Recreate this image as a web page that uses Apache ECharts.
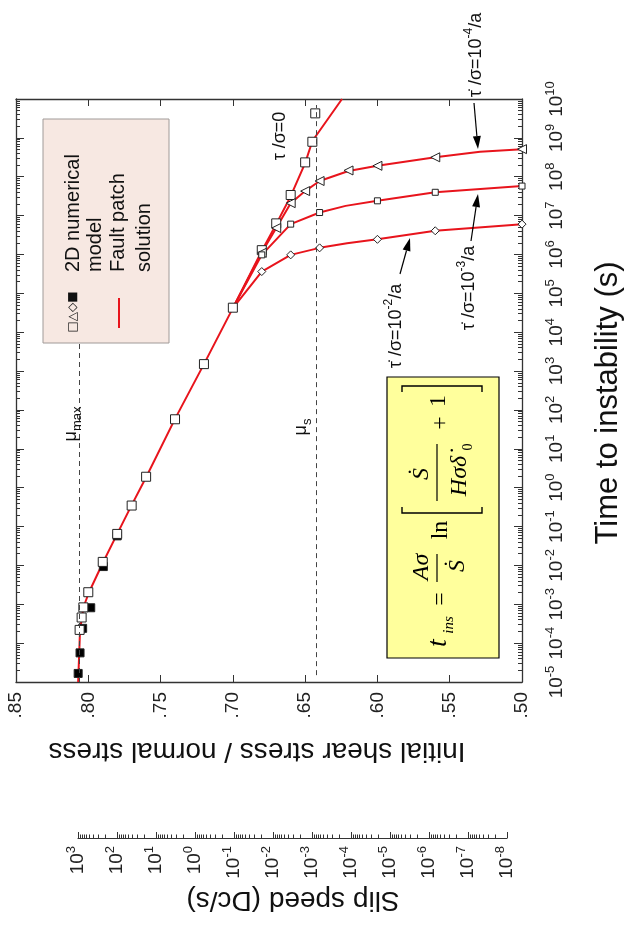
<!DOCTYPE html>
<html><head><meta charset="utf-8">
<script src="https://cdn.jsdelivr.net/npm/echarts@6/dist/echarts.min.js"></script>
<style>html,body{margin:0;padding:0;background:#fff}#c{width:626px;height:928px}</style>
</head><body><div id="c"></div>
<script>
// ---- Data: x = initial shear stress / normal stress, y = time to instability (s)
// Fault patch solution (red curves)
const curveStress0  = [0.807, 0.8057, 0.8033, 0.7995, 0.79, 0.78, 0.77, 0.76, 0.74, 0.72, 0.70, 0.68, 0.67, 0.66, 0.65, 0.645, 0.6245];
const curveTime0    = [1e-5, 2.19e-4, 8.5e-4, 2.04e-3, 1.15e-2, 6.46e-2, 0.355, 1.86, 58.9, 1.51e3, 4.17e4, 1.23e6, 6.03e6, 3.16e7, 2.24e8, 8.32e8, 1e10];
const curveStressE4 = [0.70, 0.68, 0.67, 0.66, 0.65, 0.64, 0.62, 0.60, 0.56, 0.529, 0.50];
const curveTimeE4   = [4.17e4, 1.12e6, 4.79e6, 2.09e7, 4.27e7, 7.76e7, 1.41e8, 1.91e8, 3.16e8, 4.37e8, 5.13e8];
const curveStressE3 = [0.70, 0.68, 0.66, 0.64, 0.622, 0.60, 0.56, 0.50];
const curveTimeE3   = [4.17e4, 9.77e5, 6.03e6, 1.20e7, 1.78e7, 2.40e7, 3.98e7, 5.75e7];
const curveStressE2 = [0.70, 0.68, 0.66, 0.64, 0.621, 0.60, 0.56, 0.50];
const curveTimeE2   = [4.17e4, 3.63e5, 9.77e5, 1.48e6, 1.95e6, 2.45e6, 4.07e6, 6.03e6];
// 2D numerical model (markers)
const openSqStress  = [0.806, 0.8046, 0.8034, 0.80, 0.79, 0.78, 0.77, 0.76, 0.74, 0.72, 0.70, 0.68, 0.67, 0.66, 0.65, 0.645, 0.643];
const openSqTime    = [2.19e-4, 4.57e-4, 8.32e-4, 2.04e-3, 1.23e-2, 6.46e-2, 0.347, 1.91, 57.5, 1.51e3, 4.27e4, 1.29e6, 6.31e6, 3.39e7, 2.34e8, 7.94e8, 4.27e9];
const filledStress  = [0.807, 0.8057, 0.8039, 0.7983, 0.7896, 0.78];
const filledTime    = [1.66e-5, 5.62e-5, 2.40e-4, 8.13e-4, 9.33e-3, 5.75e-2];
const triStress     = [0.68, 0.67, 0.66, 0.65, 0.64, 0.62, 0.60, 0.56, 0.50];
const triTime       = [1.10e6, 4.79e6, 2.09e7, 4.27e7, 7.76e7, 1.45e8, 1.91e8, 3.16e8, 5.13e8];
const smallSqStress = [0.68, 0.66, 0.64, 0.60, 0.56, 0.50];
const smallSqTime   = [9.77e5, 6.03e6, 1.20e7, 2.40e7, 3.98e7, 5.75e7];
const diaStress     = [0.68, 0.66, 0.64, 0.60, 0.56, 0.50];
const diaTime       = [3.63e5, 9.77e5, 1.48e6, 2.45e6, 4.07e6, 6.03e6];
// reference friction levels (stress, and time span of the dashed line)
const muMax = 0.806;
const muMaxSpan = [1e-5, 1e8];
const muS = 0.642;
const muSSpan = [1.5e-5, 7e9];
// axis ticks
const timeExponents = [-5,-4,-3,-2,-1,0,1,2,3,4,5,6,7,8,9,10];
const slipExponents = [3,2,1,0,-1,-2,-3,-4,-5,-6,-7,-8];
const stressTicks = [0.85, 0.80, 0.75, 0.70, 0.65, 0.60, 0.55, 0.50];

const zip = (xs, ys) => xs.map((x, i) => [x, ys[i]]);
const majors = ex => ex.map(e => Math.pow(10, e));
const minors = ex => { const lo = Math.min(...ex), hi = Math.max(...ex), out = [];
  for (let e = lo; e < hi; e++) for (let k = 2; k <= 9; k++) out.push(k * Math.pow(10, e)); return out; };
const powLabel = v => { const e = Math.round(Math.log10(v)); return '{b|10}{s|' + (e < 0 ? '-' : '') + Math.abs(e) + '}'; };
const SANS = "'Liberation Sans', Arial, sans-serif";
const SERIF = "'Liberation Serif', 'DejaVu Serif', serif";
const INK = '#222';
const RED = '#e8141c';
const powRich = { b: { fontSize: 19, lineHeight: 26, fontFamily: SANS, color: INK }, s: { fontSize: 13, lineHeight: 13, verticalAlign: 'top', fontFamily: SANS, color: INK } };

const frameLine = { show: true, onZero: false, lineStyle: { color: '#333', width: 1.3 } };

function arrow(x1, y1, x2, y2) {
  const dx = x2 - x1, dy = y2 - y1, L = Math.hypot(dx, dy), ux = dx / L, uy = dy / L, hl = 13, hw = 4;
  const bx = x2 - ux * hl, by = y2 - uy * hl;
  return [
    { type: 'line', z: 50, shape: { x1, y1, x2: bx, y2: by }, style: { stroke: '#000', lineWidth: 1.2 } },
    { type: 'polygon', z: 50, shape: { points: [[x2, y2], [bx - uy * hw, by + ux * hw], [bx + uy * hw, by - ux * hw]] }, style: { fill: '#000' } }
  ];
}
function rotText(x, y, rot, text, size, extra) {
  return Object.assign({ type: 'text', z: 50, x, y, rotation: rot,
    style: Object.assign({ text, fontSize: size, fontFamily: SANS, fill: '#111', align: 'center', verticalAlign: 'middle' }, extra || {}) });
}
const annRich = { n: { fontSize: 18, lineHeight: 26, fontFamily: SANS, color: '#111' }, s: { fontSize: 12, lineHeight: 13, verticalAlign: 'top', fontFamily: SANS, color: '#111' } };
const muRich = { n: { fontSize: 18, lineHeight: 26, fontFamily: SANS, color: '#111' }, u: { fontSize: 13, lineHeight: 13, verticalAlign: 'bottom', fontFamily: SANS, color: '#111' } };

// formula (local coordinates, then rotated as a group)
function ft(x, y, text, size, italic) {
  return { type: 'text', z: 61, x, y, style: { text, fontSize: size, fontFamily: SERIF, fontStyle: italic ? 'italic' : 'normal', fill: '#000', align: 'center', verticalAlign: 'middle' } };
}
const formula = {
  type: 'group', x: 387, y: 658, rotation: Math.PI / 2, z: 60,
  children: [
    { type: 'rect', z: 60, shape: { x: 0, y: 0, width: 281, height: 112 }, style: { fill: '#ffff9c', stroke: '#000', lineWidth: 1.2 } },
    ft(15, 52, 't', 28, true), ft(33, 62, 'ins', 15, true),
    ft(59, 54, '=', 24, false),
    ft(91, 35, 'Aσ', 24, true),
    { type: 'line', z: 61, shape: { x1: 76, y1: 50, x2: 104, y2: 50 }, style: { stroke: '#000', lineWidth: 1.2 } },
    ft(92, 71, '\u1E60', 24, true),
    ft(128, 54, 'ln', 24, false),
    { type: 'polyline', z: 61, shape: { points: [[151, 15], [145, 15], [145, 95], [151, 95]] }, style: { stroke: '#000', lineWidth: 1.4, fill: null } },
    ft(184, 35, '\u1E60', 24, true),
    { type: 'line', z: 61, shape: { x1: 157, y1: 50, x2: 214, y2: 50 }, style: { stroke: '#000', lineWidth: 1.2 } },
    ft(182, 73, 'Hσδ\u0307', 24, true), ft(211, 81, '0', 14, false),
    ft(235, 54, '+', 24, false),
    ft(257, 52, '1', 24, false),
    { type: 'polyline', z: 61, shape: { points: [[266, 15], [272, 15], [272, 95], [266, 95]] }, style: { stroke: '#000', lineWidth: 1.4, fill: null } }
  ]
};
function lt(x, y, text) {
  return { type: 'text', z: 61, x, y, style: { text, fontSize: 20, fontFamily: SANS, fill: '#111', align: 'left', verticalAlign: 'middle' } };
}
const legendBox = {
  type: 'group', x: 43, y: 343, rotation: Math.PI / 2, z: 60,
  children: [
    { type: 'rect', z: 60, shape: { x: 0, y: 0, width: 224, height: 126 }, style: { fill: '#f7e8e2', stroke: '#a09a98', lineWidth: 1 } },
    { type: 'text', z: 61, x: 31, y: 30, style: { text: '□△◇■', fontSize: 12, fontFamily: "'DejaVu Sans', sans-serif", fill: '#111', align: 'center', verticalAlign: 'middle' } },
    { type: 'line', z: 61, shape: { x1: 15, y1: 76, x2: 45, y2: 76 }, style: { stroke: RED, lineWidth: 2 } },
    lt(71, 30, '2D numerical'), lt(71, 52, 'model'), lt(71, 75, 'Fault patch'), lt(71, 101, 'solution')
  ]
};

const lineSeries = (data, withMark) => {
  const s = { type: 'line', data, symbol: 'none', showSymbol: false, smooth: false, z: 2,
    lineStyle: { color: RED, width: 2 }, itemStyle: { color: RED }, animation: false };
  if (withMark) s.markLine = { silent: true, symbol: ['none', 'none'], label: { show: false }, animation: false,
    lineStyle: { type: [5, 4], color: '#444', width: 1 },
    data: [
      [{ coord: [muMax, muMaxSpan[0]] }, { coord: [muMax, muMaxSpan[1]] }],
      [{ coord: [muS, muSSpan[0]] }, { coord: [muS, muSSpan[1]] }]
    ] };
  return s;
};
const scatter = (data, symbol, size, fill, rot) => ({ type: 'scatter', data, symbol, symbolSize: size, symbolRotate: rot || 0, z: 3,
  itemStyle: { color: fill, borderColor: '#222', borderWidth: 1, opacity: 1 }, animation: false });

const chart = echarts.init(document.getElementById('c'), null, { renderer: 'canvas' });
chart.setOption({
  animation: false,
  backgroundColor: '#fff',
  grid: [
    { left: 16, top: 99, width: 506, height: 583, containLabel: false, outerBoundsMode: 'none' },
    { left: 78, top: 798, width: 429, height: 40, containLabel: false, outerBoundsMode: 'none' }
  ],
  xAxis: [
    { gridIndex: 0, type: 'value', position: 'bottom', min: 0.5, max: 0.85, interval: 0.05, inverse: true,
      axisLine: frameLine, axisTick: { show: true, inside: true, length: 7, lineStyle: { color: '#333' } }, splitLine: { show: false },
      axisLabel: { rotate: 90, margin: 10, fontSize: 19, fontFamily: SANS, color: INK, customValues: stressTicks, formatter: v => v.toFixed(2).replace(/^0/, '') } },
    { gridIndex: 0, type: 'value', position: 'top', min: 0.5, max: 0.85, interval: 0.05, inverse: true,
      axisLine: frameLine, axisTick: { show: true, inside: true, length: 7, lineStyle: { color: '#333' } }, splitLine: { show: false }, axisLabel: { show: false } },
    { gridIndex: 1, type: 'log', logBase: 10, position: 'bottom', min: 1e-8, max: 1e3, inverse: true,
      axisLine: { show: true, onZero: false, lineStyle: { color: '#333', width: 1.2 } },
      axisTick: { show: true, inside: true, length: 6, customValues: majors(slipExponents), lineStyle: { color: '#333' } }, splitLine: { show: false },
      axisLabel: { rotate: 90, margin: 8, customValues: majors(slipExponents), formatter: powLabel, rich: powRich } },
    { gridIndex: 1, type: 'log', logBase: 10, position: 'bottom', min: 1e-8, max: 1e3, inverse: true,
      axisLine: { show: false }, axisLabel: { show: false }, splitLine: { show: false },
      axisTick: { show: true, inside: true, length: 3.5, customValues: minors(slipExponents), lineStyle: { color: '#333' } } }
  ],
  yAxis: [
    { gridIndex: 0, type: 'log', logBase: 10, position: 'right', min: 1e-5, max: 1e10,
      axisLine: frameLine, splitLine: { show: false },
      axisTick: { show: true, inside: true, length: 8, customValues: majors(timeExponents), lineStyle: { color: '#333' } },
      axisLabel: { rotate: 90, margin: 22, customValues: majors(timeExponents), formatter: powLabel, rich: powRich } },
    { gridIndex: 0, type: 'log', logBase: 10, position: 'left', min: 1e-5, max: 1e10,
      axisLine: frameLine, splitLine: { show: false }, axisLabel: { show: false },
      axisTick: { show: true, inside: true, length: 8, customValues: majors(timeExponents), lineStyle: { color: '#333' } } },
    { gridIndex: 0, type: 'log', logBase: 10, position: 'right', min: 1e-5, max: 1e10,
      axisLine: { show: false }, splitLine: { show: false }, axisLabel: { show: false },
      axisTick: { show: true, inside: true, length: 4, customValues: minors(timeExponents), lineStyle: { color: '#333' } } },
    { gridIndex: 0, type: 'log', logBase: 10, position: 'left', min: 1e-5, max: 1e10,
      axisLine: { show: false }, splitLine: { show: false }, axisLabel: { show: false },
      axisTick: { show: true, inside: true, length: 4, customValues: minors(timeExponents), lineStyle: { color: '#333' } } },
    { gridIndex: 1, type: 'value', show: false, min: 0, max: 1 }
  ],
  series: [
    lineSeries(zip(curveStress0, curveTime0), true),
    lineSeries(zip(curveStressE4, curveTimeE4)),
    lineSeries(zip(curveStressE3, curveTimeE3)),
    lineSeries(zip(curveStressE2, curveTimeE2)),
    scatter(zip(filledStress, filledTime), 'rect', 8, '#000'),
    scatter(zip(openSqStress, openSqTime), 'rect', 9, '#fff'),
    scatter(zip(triStress, triTime), 'triangle', 9, '#fff', 90),
    scatter(zip(smallSqStress, smallSqTime), 'rect', 6, '#fff'),
    scatter(zip(diaStress, diaTime), 'diamond', 8, '#fff')
  ],
  graphic: [
    legendBox,
    formula,
    rotText(608, 403, Math.PI / 2, 'Time to instability (s)', 31),
    rotText(257, 751, Math.PI, 'Initial shear stress / normal stress', 28),
    rotText(293, 900, Math.PI, 'Slip speed (Dc/s)', 28),
    rotText(280, 136, Math.PI / 2, 'τ /σ=0', 18),
    rotText(476, 55, Math.PI / 2, '{n|τ\u0307 /σ=10}{s|-4}{n|/a}', 18, { rich: annRich }),
    rotText(469, 288, Math.PI / 2, '{n|τ\u0307 /σ=10}{s|-3}{n|/a}', 18, { rich: annRich }),
    rotText(396, 326, Math.PI / 2, '{n|τ\u0307 /σ=10}{s|-2}{n|/a}', 18, { rich: annRich }),
    rotText(71, 424, Math.PI / 2, '{n|μ}{u|max}', 18, { rich: muRich }),
    rotText(301, 427, Math.PI / 2, '{n|μ}{u|s}', 18, { rich: muRich }),
    ...arrow(474, 103, 478, 149),
    ...arrow(471, 241, 478, 194),
    ...arrow(400, 274, 410, 238)
  ]
});
</script>
</body></html>
